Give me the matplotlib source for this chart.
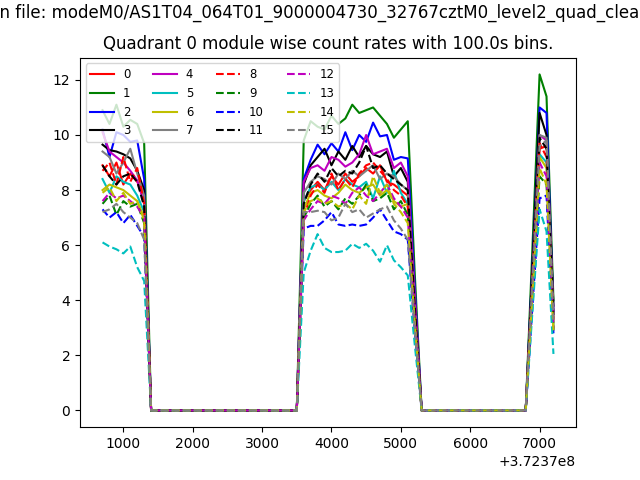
import numpy as np
import matplotlib
matplotlib.use("Agg")
from matplotlib import pyplot as plt

evt_file = "modeM0/AS1T04_064T01_9000004730_32767cztM0_level2_quad_clean.evt"
quadrant = 0
binsize = 100.0
t0 = 372370700.0
tbins = t0 + binsize * np.arange(66)

# count rates per module, read per active stretch
# seg1: 700..1300, seg2: 3600..5200, seg3: 6900..7200 (offset units)
seg1 = [
    [8.9, 8.5, 9.0, 8.2, 8.6, 8.3, 7.8],
    [10.9, 10.4, 11.1, 10.3, 10.55, 10.4, 9.7],
    [10.2, 9.2, 10.1, 10.0, 9.75, 9.8, 8.4],
    [9.65, 9.45, 9.4, 9.3, 9.15, 8.7, 8.0],
    [10.1, 9.4, 9.2, 9.0, 8.7, 8.35, 7.5],
    [8.4, 7.9, 8.5, 8.3, 8.2, 7.8, 7.2],
    [8.0, 8.2, 8.1, 8.0, 7.8, 7.6, 7.0],
    [9.4, 9.2, 8.6, 9.0, 9.5, 8.6, 7.8],
    [8.7, 9.0, 8.2, 9.2, 8.3, 8.8, 7.5],
    [7.5, 7.8, 7.1, 7.6, 7.4, 7.5, 6.8],
    [7.3, 7.0, 7.2, 6.8, 7.1, 6.7, 6.3],
    [8.9, 8.5, 8.2, 8.5, 8.6, 8.3, 7.4],
    [7.6, 7.9, 7.7, 7.8, 7.6, 7.4, 7.0],
    [6.1, 5.95, 5.85, 5.7, 5.95, 5.2, 4.7],
    [7.9, 8.1, 7.6, 7.9, 7.5, 7.6, 6.9],
    [7.2, 7.3, 7.5, 7.2, 7.0, 6.8, 6.2],
]
seg2 = [
    [7.6, 8.0, 8.3, 8.0, 8.5, 8.2, 8.6, 8.3, 8.5, 8.8, 8.6, 8.9, 8.3, 8.2, 8.0, 7.8, 3.6],
    [9.8, 10.5, 10.3, 10.2, 10.7, 10.4, 10.6, 11.1, 10.8, 10.9, 11.0, 10.7, 10.4, 9.9, 10.2, 10.5, 5.0],
    [8.4, 9.1, 9.65, 9.3, 9.7, 9.4, 10.1, 9.45, 10.0, 9.75, 10.45, 9.95, 10.0, 9.1, 9.2, 9.15, 4.5],
    [8.2, 8.9, 9.2, 9.5, 8.9, 9.4, 9.1, 9.6, 9.2, 9.6, 9.3, 9.2, 9.4, 8.5, 8.8, 8.3, 4.0],
    [8.3, 8.8, 8.9, 8.7, 9.2, 9.1, 8.85, 9.0, 9.3, 10.0, 9.3, 9.4, 9.5, 8.8, 9.0, 8.5, 4.2],
    [7.6, 8.1, 8.2, 8.0, 8.3, 8.0, 8.4, 8.2, 8.1, 8.3, 7.7, 8.5, 7.9, 8.7, 7.9, 7.5, 3.4],
    [7.3, 7.9, 8.0, 7.8, 7.7, 7.9, 8.2, 8.0, 7.9, 8.1, 8.2, 7.8, 8.0, 7.6, 7.4, 7.5, 3.3],
    [7.9, 8.3, 8.5, 8.4, 8.2, 8.6, 8.4, 8.7, 8.5, 8.7, 8.9, 8.4, 8.6, 8.5, 8.2, 8.0, 3.7],
    [7.0, 7.8, 8.2, 7.9, 8.6, 8.0, 8.4, 8.1, 8.6, 8.9, 9.0, 8.7, 8.4, 8.0, 7.8, 7.4, 3.5],
    [7.0, 7.5, 7.8, 7.4, 7.6, 7.3, 7.7, 7.5, 7.8, 8.2, 7.6, 7.7, 7.9, 7.3, 7.6, 7.1, 3.3],
    [6.6, 6.7, 6.7, 6.9, 7.2, 6.75, 6.7, 6.75, 6.7, 6.75, 7.0, 7.3, 6.9, 6.5, 6.4, 6.2, 2.9],
    [7.5, 8.2, 8.6, 8.3, 8.8, 8.5, 8.7, 8.6, 9.0, 9.6, 8.8, 8.9, 8.6, 8.4, 8.2, 8.0, 3.8],
    [6.9, 7.3, 7.6, 7.5, 7.8, 7.7, 7.5, 7.9, 8.1, 7.8, 7.6, 7.9, 8.2, 7.7, 7.4, 7.0, 3.3],
    [5.0, 5.8, 6.4, 5.9, 5.75, 5.75, 5.8, 6.05, 5.9, 6.05, 5.8, 5.4, 6.0, 5.45, 5.2, 4.9, 2.4],
    [7.2, 7.6, 7.7, 7.5, 7.6, 7.4, 7.5, 7.3, 7.8, 7.5, 8.5, 7.9, 8.2, 7.5, 7.2, 6.8, 3.2],
    [7.2, 7.2, 7.25, 7.2, 6.9, 7.0, 7.5, 7.2, 7.3, 7.0, 7.15, 7.3, 7.4, 6.9, 6.6, 6.2, 3.0],
]
seg3 = [
    [4.8, 9.5, 9.6, 3.2],
    [6.1, 12.2, 11.4, 4.0],
    [5.5, 11.0, 10.8, 3.6],
    [5.4, 10.8, 10.0, 3.8],
    [5.0, 10.0, 9.8, 3.5],
    [4.7, 9.3, 9.0, 3.1],
    [4.6, 9.2, 8.8, 3.0],
    [5.0, 10.0, 9.9, 3.4],
    [4.9, 9.7, 9.2, 3.3],
    [4.3, 8.5, 8.2, 2.9],
    [3.9, 7.7, 7.8, 2.8],
    [5.0, 9.9, 9.5, 3.4],
    [4.5, 9.0, 8.5, 3.0],
    [3.7, 7.3, 6.5, 2.05],
    [4.4, 8.8, 8.2, 2.9],
    [4.8, 9.6, 9.8, 3.3],
]
gap1 = [0.0] * 22
gap2 = [0.0] * 16

colors = ['r', 'g', 'b', 'k', 'm', 'c', 'y', 'gray']

fig = plt.figure(figsize=(6.4, 4.8), dpi=100)
ax = fig.add_subplot(111)
for i in range(16):
    rate = seg1[i] + gap1 + seg2[i] + gap2 + seg3[i]
    ls = '-' if i < 8 else '--'
    ax.plot(tbins, rate, color=colors[i % 8], linestyle=ls, label=str(i))

ax.legend(loc='upper left', ncol=4, fontsize='small')
ax.set_title("Quadrant %d module wise count rates with %.1fs bins." % (quadrant, binsize))
fig.suptitle("Data in file: " + evt_file, x=0.493, y=0.993)
fig.savefig("out.png")
